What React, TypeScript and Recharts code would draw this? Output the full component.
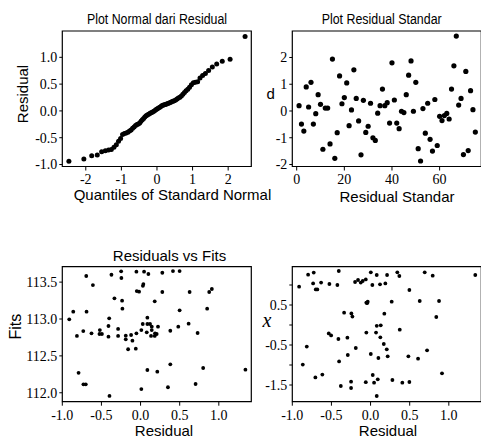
import React from 'react'
import { ScatterChart, Scatter, XAxis, YAxis, ReferenceArea } from 'recharts'

// normal probability plot (theoretical quantile, ordered residual)
const qqQuantiles = [
  -2.475, -2.054, -1.834, -1.678, -1.555, -1.451, -1.361, -1.282, -1.209, -1.142,
  -1.08, -1.022, -0.967, -0.915, -0.866, -0.818, -0.772, -0.728, -0.685, -0.643,
  -0.602, -0.563, -0.524, -0.486, -0.449, -0.412, -0.376, -0.341, -0.305, -0.271,
  -0.236, -0.202, -0.168, -0.134, -0.1, -0.067, -0.033, 0, 0.033, 0.067,
  0.1, 0.134, 0.168, 0.202, 0.236, 0.271, 0.305, 0.341, 0.376, 0.412,
  0.449, 0.486, 0.524, 0.563, 0.602, 0.643, 0.685, 0.728, 0.772, 0.818,
  0.866, 0.915, 0.967, 1.022, 1.08, 1.142, 1.209, 1.282, 1.361, 1.451,
  1.555, 1.678, 1.834, 2.054, 2.475,
]
const qqResiduals = [
  -0.94, -0.897, -0.836, -0.823, -0.762, -0.742, -0.73, -0.718, -0.68, -0.63,
  -0.565, -0.515, -0.44, -0.42, -0.41, -0.4, -0.375, -0.355, -0.325, -0.3,
  -0.27, -0.255, -0.242, -0.225, -0.195, -0.165, -0.14, -0.115, -0.09, -0.075,
  -0.062, -0.048, -0.036, -0.025, -0.01, 0.005, 0.02, 0.035, 0.05, 0.065,
  0.08, 0.095, 0.108, 0.115, 0.122, 0.13, 0.138, 0.148, 0.158, 0.17,
  0.18, 0.19, 0.205, 0.222, 0.24, 0.255, 0.28, 0.31, 0.345, 0.375,
  0.405, 0.44, 0.49, 0.525, 0.535, 0.545, 0.615, 0.66, 0.7, 0.755,
  0.82, 0.875, 0.925, 0.965, 1.39,
]

// standardized residual per observation (1..75)
const stdResiduals = [
  0.2, -0.49, -0.75, 0.9, 0.15, 1.07, -0.49, -0.1, 0.61, 0.25,
  -1.43, 0.11, 0.11, -1.23, 1.94, -1.77, -0.81, 1.31, 0.27, 0.5,
  1.05, -0.55, 0.04, 1.54, 0.47, -0.37, -1.64, 0.4, -0.8, -0.57,
  0.29, -1.0, -1.1, -0.08, 0.2, 0.82, 0.2, 0.31, -0.45, 1.8,
  0.41, -0.45, -0.66, -0.01, -0.06, 0.61, 1.34, 1.87, -0.01, 1.07,
  -1.41, -1.87, 0.09, -0.83, 0.29, -1.06, -1.5, 0.43, -1.29, -0.2,
  -0.36, -0.17, -0.09, -0.3, 0.82, 1.69, 2.8, 0.22, 0.47, -1.63,
  1.48, -1.48, 0.76, 0.05, -0.79,
]

// residuals vs fits
const rvfResidual = [
  -0.911, -0.86, -0.813, -0.792, -0.732, -0.73, -0.7, -0.694, -0.69, -0.627,
  -0.609, -0.52, -0.525, -0.494, -0.41, -0.401, -0.41, -0.372, -0.397, -0.334,
  -0.287, -0.287, -0.248, -0.245, -0.236, -0.232, -0.189, -0.189, -0.159, -0.121,
  -0.104, -0.061, -0.053, -0.053, -0.048, -0.019, 0.01, 0.01, 0.045, 0.036,
  0.1, 0.03, 0.278, 0.414, 0.499, 0.278, 0.181, 0.627, 0.877, 0.911,
  0.499, 0.851, 0.087, 0.028, 0.087, 0.121, 0.143, 0.223, 0.079, 0.143,
  0.134, 0.181, 0.206, 0.185, 0.38, 0.482, 0.614, 0.729, 0.087, 0.214,
  0.38, 0.8, 1.34, 0.35, 0.703,
]
const rvfFits = [
  112.996, 113.099, 112.77, 112.27, 112.837, 112.115, 112.115, 113.583, 113.099, 112.806,
  113.46, 112.85, 112.797, 112.797, 112.905, 113.009, 112.76, 113.6, 111.957, 113.28,
  112.77, 112.865, 113.646, 113.556, 113.248, 113.14, 112.774, 112.725, 112.59, 112.783,
  112.706, 112.598, 112.806, 113.641, 113.379, 113.37, 112.85, 112.05, 113.641, 113.474,
  113.61, 113.45, 113.627, 113.65, 113.65, 113.366, 113.24, 113.366, 113.366, 113.407,
  113.118, 113.14, 113.018, 112.932, 112.932, 112.932, 112.896, 112.896, 112.82, 112.85,
  112.77, 112.77, 112.797, 112.806, 112.841, 112.896, 112.936, 112.81, 112.309, 112.286,
  112.386, 112.336, 112.313, 112.075, 112.119,
]

// x vs residual
const xvrResidual = [
  -0.913, -0.866, -0.815, -0.798, -0.726, -0.734, -0.7, -0.68, -0.705, -0.632,
  -0.616, -0.526, -0.534, -0.504, -0.406, -0.424, -0.411, -0.402, -0.38, -0.338,
  -0.296, -0.291, -0.245, -0.232, -0.249, -0.249, -0.198, -0.189, -0.16, -0.125,
  -0.1, -0.061, -0.061, -0.054, -0.054, -0.036, -0.045, 0.003, 0.023, 0.003,
  0.028, 0.045, 0.079, 0.079, 0.07, 0.1, 0.121, 0.189, 0.211, 0.342,
  0.368, 0.496, 0.692, 0.794, 1.338, 0.27, 0.628, 0.875, 0.176, 0.84,
  0.13, 0.373, 0.125, 0.169, 0.207, 0.219, 0.483, 0.607, 0.722, 0.913,
  0.092, 0.279, 0.406, 0.496, 0.079,
]
const xvrX = [
  0.958, -0.99, -0.54, 1.258, 1.31, 1.04, 0.89, 0.89, -1.31, 1.06,
  -1.24, 1.025, -0.21, -0.26, 1.35, 1.0, -0.35, -0.91, -1.525, 0.308,
  -0.317, -0.75, 0.29, 0.21, -1.417, -1.575, 1.075, -0.575, 1.125, 1.06,
  1.1, 1.14, -1.43, -0.19, 0.56, 0.583, 0.545, 1.317, 1.0, -0.725,
  -1.25, -1.442, 1.25, -0.02, -0.19, -0.825, 1.017, 1.04, 1.25, 1.317,
  1.225, 0.875, 1.317, 1.233, 1.25, 0.583, 0.6, 0.6, 0.283, 0.2,
  -0.008, -0.117, -0.308, -0.475, -0.608, -0.783, -0.783, -0.842, -0.633, -1.208,
  -1.358, -1.375, -1.442, -1.425, -1.775,
]

const qqData = qqQuantiles.map((q, i) => ({ x: q, y: qqResiduals[i] }))
const stdData = stdResiduals.map((d, i) => ({ x: i + 1, y: d }))
const rvfData = rvfResidual.map((r, i) => ({ x: r, y: rvfFits[i] }))
const xvrData = xvrResidual.map((r, i) => ({ x: r, y: xvrX[i] }))

const SERIF = '"Liberation Serif", "Times New Roman", serif'
const SANS = '"Liberation Sans", Arial, Helvetica, sans-serif'

const fmt1 = (v: number) => v.toFixed(1)
const fmt0 = (v: number) => String(v)

// serif tick labels, drawn by hand so the font sticks
const xTick = (format: (v: number) => string) => (t: any) => (
  <text x={t.x} y={t.y} dy="0.71em" textAnchor="middle" fontFamily={SERIF} fontSize={14} fill="#000">
    {format(t.payload.value)}
  </text>
)
const yTick = (format: (v: number) => string) => (t: any) => (
  <text x={t.x} y={t.y} dy="0.355em" textAnchor="end" fontFamily={SERIF} fontSize={14} fill="#000">
    {format(t.payload.value)}
  </text>
)

interface PanelProps {
  left: number
  top: number
  height: number
  plotTop: number
  plotBottom: number
  data: { x: number; y: number }[]
  xDomain: [number, number]
  yDomain: [number, number]
  xTicks: number[]
  yTicks: number[]
  xFormat: (v: number) => string
  yFormat: (v: number) => string
  dotR: number
}

function Panel(p: PanelProps) {
  const width = 260
  return (
    <div style={{ position: 'absolute', left: p.left, top: p.top }}>
      <ScatterChart
        width={width}
        height={p.height}
        margin={{ top: p.plotTop, right: width - 251.3, bottom: 0, left: 0 }}
      >
        <XAxis
          type="number"
          dataKey="x"
          domain={p.xDomain}
          allowDataOverflow
          ticks={p.xTicks}
          interval={0}
          height={p.height - p.plotBottom}
          axisLine={false}
          tickLine={{ stroke: '#000' }}
          tickSize={4}
          tickMargin={4}
          tick={xTick(p.xFormat)}
        />
        <YAxis
          type="number"
          dataKey="y"
          domain={p.yDomain}
          allowDataOverflow
          ticks={p.yTicks}
          interval={0}
          width={62.3}
          axisLine={false}
          tickLine={{ stroke: '#000' }}
          tickSize={3}
          tickMargin={2}
          tick={yTick(p.yFormat)}
        />
        <ReferenceArea
          x1={p.xDomain[0]}
          x2={p.xDomain[1]}
          y1={p.yDomain[0]}
          y2={p.yDomain[1]}
          fill="none"
          stroke="#000"
          strokeWidth={1.2}
          ifOverflow="visible"
        />
        <Scatter
          data={p.data}
          isAnimationActive={false}
          shape={(s: any) => <circle cx={s.cx} cy={s.cy} r={p.dotR} fill="#000" />}
        />
      </ScatterChart>
    </div>
  )
}

export default function App() {
  return (
    <div
      style={{
        position: 'absolute',
        left: 0,
        top: 0,
        width: 481,
        height: 439,
        overflow: 'hidden',
        background: '#fff',
      }}
    >
      <Panel
        left={0}
        top={0}
        height={215}
        plotTop={31}
        plotBottom={166.5}
        data={qqData}
        xDomain={[-2.66, 2.65]}
        yDomain={[-1.037, 1.491]}
        xTicks={[-2, -1, 0, 1, 2]}
        yTicks={[-1, -0.5, 0, 0.5, 1]}
        xFormat={fmt0}
        yFormat={fmt1}
        dotR={2.5}
      />
      <Panel
        left={230}
        top={0}
        height={215}
        plotTop={31}
        plotBottom={166.5}
        data={stdData}
        xDomain={[-1.845, 77.5]}
        yDomain={[-2.075, 2.99]}
        xTicks={[0, 20, 40, 60]}
        yTicks={[-2, -1, 0, 1, 2]}
        xFormat={fmt0}
        yFormat={fmt0}
        dotR={2.6}
      />
      <Panel
        left={0}
        top={230}
        height={209}
        plotTop={36.7}
        plotBottom={171.7}
        data={rvfData}
        xDomain={[-1.0, 1.415]}
        yDomain={[111.879, 113.709]}
        xTicks={[-1, -0.5, 0, 0.5, 1]}
        yTicks={[112, 112.5, 113, 113.5]}
        xFormat={fmt1}
        yFormat={fmt1}
        dotR={1.9}
      />
      <Panel
        left={230}
        top={230}
        height={209}
        plotTop={36.7}
        plotBottom={171.7}
        data={xvrData}
        xDomain={[-1.0, 1.415]}
        yDomain={[-1.9175, 1.4575]}
        xTicks={[-1, -0.5, 0, 0.5, 1]}
        yTicks={[-1.5, -1, -0.5, 0, 0.5, 1]}
        xFormat={fmt1}
        yFormat={(v) => (v === 0.5 || v === -0.5 || v === -1.5 ? v.toFixed(1) : '')}
        dotR={1.9}
      />

      {/* titles and axis labels */}
      <svg
        width={481}
        height={439}
        style={{ position: 'absolute', left: 0, top: 0, pointerEvents: 'none' }}
      >
        <g fontFamily={SANS} fill="#000">
          <text x={157} y={24} fontSize={14} textAnchor="middle" textLength={140} lengthAdjust="spacingAndGlyphs">
            Plot Normal dari Residual
          </text>
          <text x={381.7} y={24} fontSize={14} textAnchor="middle" textLength={120} lengthAdjust="spacingAndGlyphs">
            Plot Residual Standar
          </text>
          <text x={169.5} y={261} fontSize={15} textAnchor="middle">
            Residuals vs Fits
          </text>

          <text x={172.5} y={200} fontSize={15} textAnchor="middle">
            Quantiles of Standard Normal
          </text>
          <text x={28} y={94} fontSize={15} textAnchor="middle" transform="rotate(-90 28 94)">
            Residual
          </text>

          <text x={397} y={202} fontSize={15} textAnchor="middle">
            Residual Standar
          </text>
          <text x={270.7} y={99} fontSize={15} textAnchor="middle">
            d
          </text>

          <text x={164} y={436} fontSize={15} textAnchor="middle">
            Residual
          </text>
          <text x={21} y={326.7} fontSize={16} textAnchor="middle" transform="rotate(-90 21 326.7)">
            Fits
          </text>

          <text x={388} y={436} fontSize={15} textAnchor="middle">
            Residual
          </text>
        </g>
        <text x={267} y={327} fontSize={20} fontFamily={SERIF} fontStyle="italic" textAnchor="middle">
          x
        </text>
      </svg>
    </div>
  )
}
